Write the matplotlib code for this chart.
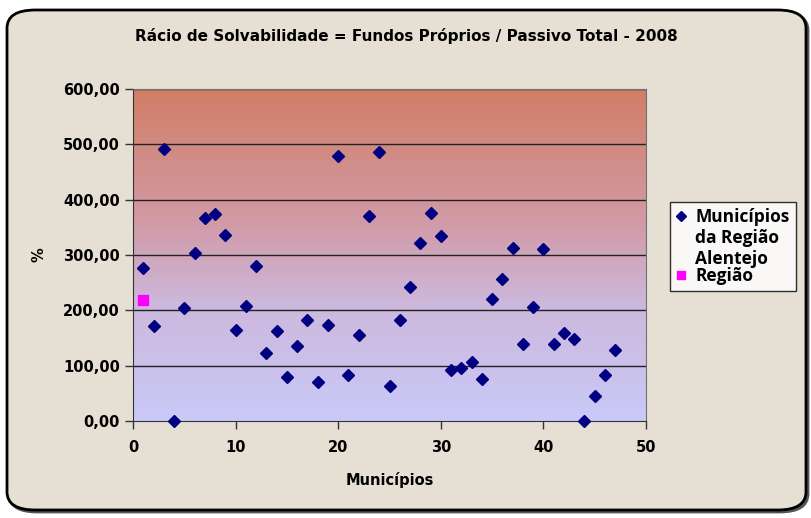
import numpy as np
import matplotlib
matplotlib.use('Agg')
import matplotlib.pyplot as plt
from matplotlib.patches import FancyBboxPatch
from matplotlib.colors import LinearSegmentedColormap
from matplotlib.ticker import FuncFormatter
from matplotlib.legend_handler import HandlerLine2D

# Rácio de solvabilidade por município (%)
municipios = list(range(1, 48))
racio = [276, 171, 491, 0, 204, 303, 367, 374, 336, 164,
         208, 280, 122, 162, 79, 136, 182, 71, 173, 479,
         84, 156, 371, 487, 64, 182, 242, 322, 376, 334,
         92, 96, 107, 76, 220, 256, 312, 139, 206, 310,
         139, 159, 149, 0, 45, 84, 128]
regiao_x = [1]
regiao_y = [218]

title = 'Rácio de Solvabilidade = Fundos Próprios / Passivo Total - 2008'


# put the legend marker on the first line of a multi-line label
class TopLineHandler(HandlerLine2D):
    def create_artists(self, legend, orig_handle, xdescent, ydescent,
                       width, height, fontsize, trans):
        return super().create_artists(legend, orig_handle, xdescent, ydescent - 33,
                                      width, height, fontsize, trans)


plt.rcParams['font.family'] = 'DejaVu Sans'
plt.rcParams['font.weight'] = 'bold'

fig = plt.figure(figsize=(8.11, 5.18), dpi=100)
fig.patch.set_facecolor('white')

# rounded chart frame with a small shadow
shadow = FancyBboxPatch((9/811, 1-512/518), 799/811, 500/518,
                        boxstyle='round,pad=0,rounding_size=0.035',
                        transform=fig.transFigure, facecolor='#555555',
                        edgecolor='#555555', linewidth=2.0, zorder=-6)
frame = FancyBboxPatch((7/811, 1-510/518), 799/811, 500/518,
                       boxstyle='round,pad=0,rounding_size=0.035',
                       transform=fig.transFigure, facecolor='#e6e0d4',
                       edgecolor='black', linewidth=2.0, zorder=-5)
fig.patches.append(shadow)
fig.patches.append(frame)

ax = fig.add_axes([133/811, 1-421/518, 513/811, 332/518])
ax.set_zorder(2)
ax.set_facecolor('none')

# gradient fill of the plot area
cmap = LinearSegmentedColormap.from_list(
    'grad', [(0.0, '#c9c9f8'), (0.35, '#cdb8dc'), (0.6, '#d19aa6'), (1.0, '#d27e66')])
grad = np.linspace(0, 1, 256).reshape(-1, 1)
ax.imshow(grad, cmap=cmap, aspect='auto', extent=[0, 50, 0, 600],
          origin='lower', zorder=0)

for yv in range(100, 601, 100):
    ax.axhline(yv, color='#222222', linewidth=1.0, zorder=1)

mun_line, = ax.plot(municipios, racio, linestyle='none', marker='D', markersize=6.5,
                    color='#000080', label='Municípios\nda Região\nAlentejo',
                    zorder=3, clip_on=False)
ax.plot(regiao_x, regiao_y, linestyle='none', marker='s', markersize=7,
        color='#ff00ff', label='Região', zorder=3)

ax.set_xlim(0, 50)
ax.set_ylim(0, 600)
ax.set_xticks(range(0, 51, 10))
ax.set_yticks(range(0, 601, 100))
ax.yaxis.set_major_formatter(FuncFormatter(lambda v, p: f'{v:.2f}'.replace('.', ',')))
ax.tick_params(axis='both', direction='out', length=6, width=1, colors='#333333',
               labelsize=10.5, labelcolor='black')
ax.tick_params(axis='x', pad=8)
for s in ax.spines.values():
    s.set_color('#707070')
ax.spines['left'].set_color('#333333')
ax.spines['bottom'].set_color('#333333')

fig.text(406/811, 1-36/518, title, ha='center', va='center', fontsize=11, fontweight='bold')
ax.set_xlabel('Municípios', fontsize=10.5, fontweight='bold', labelpad=12)
ax.set_ylabel('%', fontsize=10.5, fontweight='bold', labelpad=12)

leg = ax.legend(loc='upper left', bbox_to_anchor=(670/811, 1-202/518),
                bbox_transform=fig.transFigure, borderaxespad=0,
                frameon=True, fancybox=False,
                prop={'family': 'Open Sans', 'weight': 'bold', 'size': 12.5},
                handlelength=0.6, handletextpad=0.5, labelspacing=-0.02,
                borderpad=0.35, markerscale=0.85,
                handler_map={mun_line: TopLineHandler()})
leg.get_frame().set_edgecolor('black')
leg.get_frame().set_facecolor('white')
leg.get_frame().set_linewidth(1.0)

plt.savefig('out.png', dpi=100)
